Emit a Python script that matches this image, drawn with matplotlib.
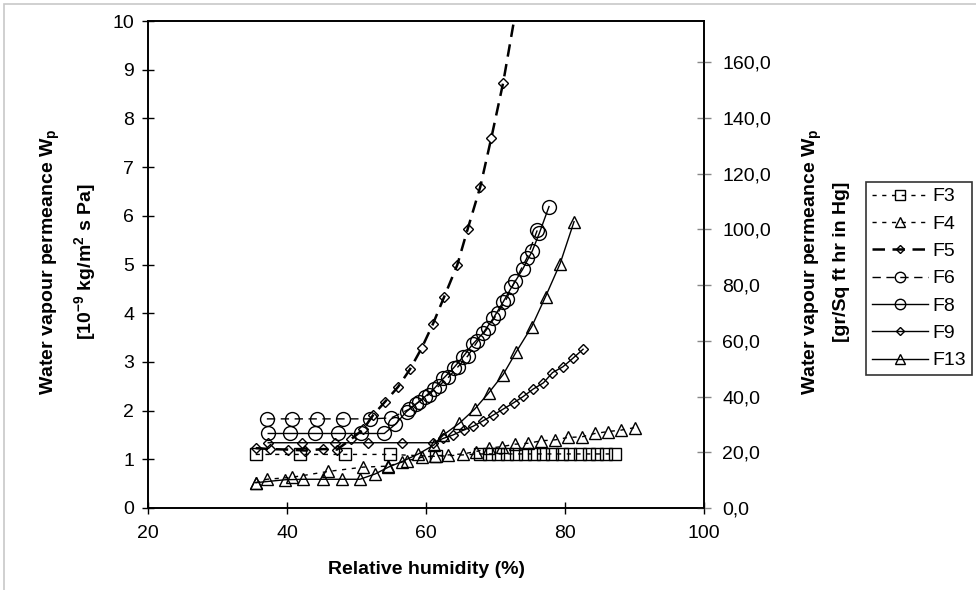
import matplotlib
matplotlib.use('Agg')
import matplotlib.pyplot as plt
import matplotlib.patches as mpatches

plt.rcParams['font.family'] = ['Liberation Sans', 'DejaVu Sans']
plt.rcParams['mathtext.fontset'] = 'custom'
plt.rcParams['mathtext.rm'] = 'Liberation Sans'
plt.rcParams['mathtext.bf'] = 'Liberation Sans:bold'
plt.rcParams['mathtext.it'] = 'Liberation Sans:italic'

# ---------------- data ----------------
series_names = ['F3', 'F4', 'F5', 'F6', 'F8', 'F9', 'F13']

f3_rh = [35.5, 41.9, 48.3, 54.8, 61.5, 67.8, 69.1, 70.4, 71.6, 72.9, 74.2, 75.6, 76.9,
         78.2, 79.5, 80.7, 82.1, 83.4, 84.6, 85.9, 87.2]
f3_wp = [1.10, 1.10, 1.10, 1.10, 1.06, 1.11, 1.11, 1.11, 1.11, 1.11, 1.11, 1.11, 1.11,
         1.11, 1.11, 1.11, 1.11, 1.11, 1.11, 1.11, 1.11]

f4_rh = [35.5, 37.1, 40.7, 45.9, 51.0, 54.6, 57.2, 59.4, 61.3, 63.2, 65.3, 67.2, 69.1,
         70.9, 72.8, 74.7, 76.6, 78.6, 80.5, 82.4, 84.3, 86.2, 88.1, 90.0]
f4_wp = [0.52, 0.59, 0.63, 0.75, 0.84, 0.86, 0.97, 1.04, 1.07, 1.09, 1.11, 1.16, 1.23,
         1.26, 1.31, 1.33, 1.38, 1.40, 1.45, 1.46, 1.53, 1.57, 1.60, 1.65]

f5_rh = [35.5, 37.6, 40.1, 42.6, 45.2, 47.2, 49.2, 51.0, 52.4, 54.1, 56.0, 57.7, 59.4,
         61.0, 62.6, 64.5, 66.0, 67.8, 69.4, 71.1, 72.9]
f5_wp = [1.23, 1.21, 1.20, 1.18, 1.21, 1.20, 1.41, 1.62, 1.91, 2.18, 2.49, 2.85, 3.29,
         3.78, 4.33, 4.99, 5.73, 6.59, 7.60, 8.73, 10.20]

f6_rh = [37.1, 40.7, 44.3, 48.1, 52.0, 55.0, 57.6, 59.0, 60.4, 61.8, 63.2, 64.6, 66.0,
         67.4, 68.9, 70.3, 71.6, 72.8, 74.5, 76.0]
f6_wp = [1.83, 1.83, 1.83, 1.83, 1.83, 1.85, 2.03, 2.18, 2.33, 2.50, 2.68, 2.90, 3.12,
         3.42, 3.70, 4.00, 4.30, 4.66, 5.13, 5.70]

f8_rh = [37.3, 40.4, 44.0, 47.3, 50.7, 54.0, 55.6, 57.2, 58.5, 59.8, 61.1, 62.5, 64.0,
         65.3, 66.7, 68.2, 69.7, 71.1, 72.3, 73.9, 75.3, 76.3, 77.7]
f8_wp = [1.53, 1.53, 1.53, 1.53, 1.53, 1.53, 1.72, 1.98, 2.13, 2.28, 2.44, 2.66, 2.88,
         3.10, 3.36, 3.59, 3.90, 4.23, 4.53, 4.90, 5.28, 5.64, 6.19]

f9_rh = [37.3, 42.2, 46.9, 51.7, 56.5, 61.0, 62.5, 63.9, 65.4, 66.8, 68.2, 69.7, 71.1,
         72.6, 74.0, 75.4, 76.9, 78.2, 79.7, 81.1, 82.6]
f9_wp = [1.34, 1.34, 1.34, 1.34, 1.34, 1.34, 1.43, 1.50, 1.60, 1.68, 1.79, 1.91, 2.03,
         2.16, 2.29, 2.44, 2.57, 2.78, 2.90, 3.07, 3.26]

f13_rh = [35.5, 39.7, 42.3, 45.2, 47.9, 50.5, 52.7, 54.6, 56.5, 58.9, 61.1, 62.5, 64.8,
          67.0, 69.0, 71.1, 73.0, 75.2, 77.2, 79.3, 81.3]
f13_wp = [0.52, 0.58, 0.59, 0.59, 0.59, 0.59, 0.70, 0.84, 0.95, 1.11, 1.29, 1.50, 1.74,
          2.03, 2.36, 2.74, 3.21, 3.72, 4.34, 5.02, 5.88]

x_ticks = [20, 40, 60, 80, 100]
y_ticks = [0, 1, 2, 3, 4, 5, 6, 7, 8, 9, 10]
perm_ticks = [0, 20, 40, 60, 80, 100, 120, 140, 160]
perm_tick_labels = ['0,0', '20,0', '40,0', '60,0', '80,0', '100,0', '120,0', '140,0', '160,0']
PERM_FACTOR = 17.48  # 1e-9 kg/m2 s Pa -> grain/(ft2 hr inHg)

xs = [f3_rh, f4_rh, f5_rh, f6_rh, f8_rh, f9_rh, f13_rh]
ys = [f3_wp, f4_wp, f5_wp, f6_wp, f8_wp, f9_wp, f13_wp]

# ---------------- styles ----------------
styles = [
    dict(ls=(0, (3, 4)), lw=1.0, marker='s', ms=9),
    dict(ls=(0, (3, 4)), lw=1.0, marker='^', ms=9),
    dict(ls=(0, (5, 3)), lw=1.8, marker='D', ms=5.5),
    dict(ls=(0, (6, 4)), lw=1.0, marker='o', ms=10),
    dict(ls='-', lw=1.0, marker='o', ms=10),
    dict(ls='-', lw=1.0, marker='D', ms=5),
    dict(ls='-', lw=1.0, marker='^', ms=9),
]

W, H = 976, 590
fig = plt.figure(figsize=(W / 100, H / 100), dpi=100)
ax = fig.add_axes([148 / W, 1 - 508 / H, (704 - 148) / W, (508 - 21) / H])

handles = []
for name, x, y, st in zip(series_names, xs, ys, styles):
    h, = ax.plot(x, y, color='black', linestyle=st['ls'], linewidth=st['lw'],
                 marker=st['marker'], markersize=st['ms'], markerfacecolor='none',
                 markeredgecolor='black', markeredgewidth=1.0, label=name)
    handles.append(h)

ax.set_xlim(20, 100)
ax.set_ylim(0, 10)
ax.set_xticks(x_ticks)
ax.set_yticks(y_ticks)
ax.tick_params(axis='both', direction='inout', length=8, width=1, labelsize=14, pad=6)
ax.tick_params(axis='x', pad=8)
for sp in ax.spines.values():
    sp.set_linewidth(1.2)

ax2 = ax.twinx()
ax2.set_ylim(0, 10 * PERM_FACTOR)
ax2.set_yticks(perm_ticks)
ax2.set_yticklabels(perm_tick_labels)
ax2.tick_params(axis='y', direction='inout', length=10, width=1, labelsize=14, pad=8,
                color='#888888')
for sp in ax2.spines.values():
    sp.set_linewidth(1.2)

ax.set_xlabel('Relative humidity (%)', fontsize=14, fontweight='bold', labelpad=14)

fig.text(50 / W, 1 - 262 / H, r'Water vapour permeance W$_\mathbf{p}$', rotation=90,
         ha='center', va='center', fontsize=14, fontweight='bold')
fig.text(85 / W, 1 - 262 / H, r'[10$^\mathbf{-9}$ kg/m$^\mathbf{2}$ s Pa]', rotation=90,
         ha='center', va='center', fontsize=14, fontweight='bold')
fig.text(812 / W, 1 - 262 / H, r'Water vapour permeance W$_\mathbf{p}$', rotation=90,
         ha='center', va='center', fontsize=14, fontweight='bold')
fig.text(842 / W, 1 - 262 / H, '[gr/Sq ft hr in Hg]', rotation=90,
         ha='center', va='center', fontsize=14, fontweight='bold')

leg = fig.legend(handles=handles, labels=series_names, loc='upper left',
                 bbox_to_anchor=(866 / W, 1 - 182 / H), frameon=True, fancybox=False,
                 edgecolor='black', fontsize=14, handlelength=2.9, handletextpad=0.2,
                 labelspacing=0.5, borderpad=0.3, borderaxespad=0, markerscale=0.75,
                 numpoints=1)
leg.get_frame().set_linewidth(1.2)

# figure border (light gray)
fig.patches.append(mpatches.Rectangle((4 / W, -0.01), 1.0, 1 - 4 / H + 0.01,
                                      transform=fig.transFigure, fill=False,
                                      edgecolor='#c8c8c8', linewidth=1.2))

fig.savefig('out.png', dpi=100)
